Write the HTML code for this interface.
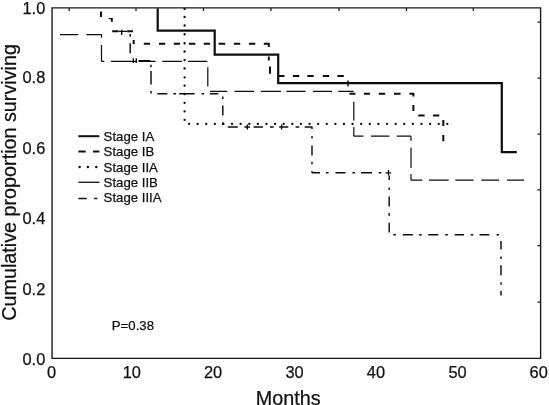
<!DOCTYPE html>
<html>
<head>
<meta charset="utf-8">
<title>Cumulative proportion surviving by stage</title>
<style>
html,body{margin:0;padding:0;background:#fff;}
body{width:549px;height:405px;overflow:hidden;font-family:"Liberation Sans",sans-serif;}
svg{display:block;will-change:transform;opacity:0.999;}
text{font-family:"Liberation Sans",sans-serif;fill:#111;stroke:#111;stroke-width:0.25px;}
.ax{font-size:16.4px;}
.lg{font-size:13.2px;}
.ttl{font-size:19.8px;}
</style>
</head>
<body>
<svg width="549" height="405" viewBox="0 0 549 405">
<rect x="0" y="0" width="549" height="405" fill="#fff"/>

<!-- frame -->
<g stroke="#161616" fill="none">
<path d="M52.05 7.8H540.6V358.3H52.05Z" stroke-width="1.35"/>
<g stroke-width="1.25">
<path d="M69.2 8v2.9M136 8v2.9M203.5 8v2.9M270.9 8v2.9M339 8v2.9M406.5 8v2.9M473.3 8v2.9"/>
<path d="M540.3 22h-2.8M540.3 78h-2.8M540.3 134h-2.8M540.3 189.8h-2.8M540.3 245.7h-2.8M540.3 302h-2.8"/>
</g>
</g>

<!-- y tick labels -->
<g class="ax" text-anchor="end">
<text x="45.3" y="14.4">1.0</text>
<text x="45.3" y="83.3">0.8</text>
<text x="45.3" y="154.3">0.6</text>
<text x="45.3" y="223.9">0.4</text>
<text x="45.3" y="294.5">0.2</text>
<text x="45.3" y="364.8">0.0</text>
</g>
<!-- x tick labels -->
<g class="ax" text-anchor="middle">
<text x="51.5" y="378.3">0</text>
<text x="131.8" y="378.3">10</text>
<text x="213" y="378.3">20</text>
<text x="294.6" y="378.3">30</text>
<text x="375.9" y="378.3">40</text>
<text x="457.5" y="378.3">50</text>
<text x="538.7" y="378.3">60</text>
</g>
<text class="ttl" x="288.2" y="405" text-anchor="middle">Months</text>
<text class="ttl" transform="translate(15.7 182.4) rotate(-90)" text-anchor="middle" style="font-size:19.75px">Cumulative proportion surviving</text>

<!-- legend -->
<g stroke="#111" fill="none">
<path d="M78.4 136.2H99.3" stroke-width="2"/>
<path d="M78.4 151.5H85.7M93 151.5H99.4" stroke-width="2.1"/>
<path d="M79.6 167.1h0M87.9 167.1h0M96.3 167.1h0" stroke-width="2.5" stroke-linecap="round"/>
<path d="M78.4 182.3H99.3" stroke-width="1.3"/>
<path d="M78.4 198.5H86.8M94.2 198.5H97.3" stroke-width="1.3"/>
</g>
<g class="lg">
<text x="103.6" y="140.8">Stage IA</text>
<text x="103.6" y="156.1">Stage IB</text>
<text x="103.6" y="171.6">Stage IIA</text>
<text x="103.6" y="187">Stage IIB</text>
<text x="103.6" y="202.4">Stage IIIA</text>
<text x="111.8" y="330.2">P=0.38</text>
</g>

<!-- curves -->
<g stroke="#0d0d0d" fill="none">
<!-- Stage IIB long dash -->
<path d="M60 34.6H78.2M86.4 34.6H101.9M101.5 34.6V37.7M101.5 45V61.4M101.5 61.4H104.3M111 61.4H136M148 61.4H155.5M162.3 61.4H181.9M188 61.4H207.4M207.8 67.3V86.4M210 91.4H227.4M234.5 91.4H254M260.8 91.4H281M286.4 91.4H305.5M312.8 91.4H332M338.3 91.4H353.7M353.8 101.8V120.5M353.8 126.9V136.2M353.8 136.2H363.5M371 136.2H389.4M396.8 136.2H411M411 136.2V140.8M411 147.5V167.9M411 174V180.2M411 180.2H422.3M429 180.2H448.7M455.4 180.2H473.6M481.4 180.2H499.1M506.9 180.2H524" stroke-width="1.2"/>
<path d="M138.5 61H150.2" stroke-width="2"/>
<!-- Stage IIIA dash dot -->
<path d="M130.2 34V36.8M130.2 43.2V53.2M151 71V84.6M151 64.7v2.6M151 91.0v2.6M157.3 93.7H167.3M179.2 93.7H194.6M210 93.7H218.3M173.3 93.7h2.6M201.5 93.7h2.6M222.8 105.6V115.5M222.8 96.4v2.6M222.8 122.3v2.6M227.8 127H237.8M253.5 127H263M270 127H273.7M279.2 127H288.3M295.6 127H299.2M304.7 127H312.6M312 127V129M312 145.5V155.6M312 171V172.8M312 136.0v2.6M312 161.7v2.6M311.8 172.8H320M335.5 172.8H345.5M361 172.8H372M326.0 172.8h2.6M352.4 172.8h2.6M378.8 172.8h2.6M389.2 175.5V180M389.2 196.4V206.5M389.2 222.8V232.4M389.2 187.5v2.6M389.2 213.1v2.6M402.8 234.8H412.8M428.3 234.8H438.3M454.7 234.8H464M479.6 234.8H489.3M393.3 234.8h2.6M419.1 234.8h2.6M445.2 234.8h2.6M470.7 234.8h2.6M496.5 234.8h2.6M501 241V249.4M501 265.3V275.3M501 290.7V295.4M501 256.5v2.6M501 282.2v2.6" stroke-width="1.45"/>
<!-- censor ticks -->
<path d="M133.3 58.2V63M136.3 58.2V63M121.7 29.8V34.9M118.5 31.3H127.2M247.3 124.5V129.6M244.5 127H250M281.6 124.5V129.6M388.5 170V175.6M385.6 172.8H391.2" stroke-width="1.35"/>
<path d="M348 80.4V86.4" stroke-width="1.5"/>
<!-- Stage IIA dotted -->
<path d="M184.6 8.9v0M184.6 16.9v0M184.6 25.5v0M184.6 34.2v0M184.6 43.2v0M184.6 51.5v0M184.6 60.1v0M184.6 68.4v0M184.6 77.3v0M184.6 85.6v0M184.6 94.0v0M184.6 102.8v0M184.6 111.3v0M184.6 119.8v0M189.0 123.8h0M197.61 123.8h0M206.22 123.8h0M214.83 123.8h0M223.44 123.8h0M232.05 123.8h0M240.66 123.8h0M249.27 123.8h0M257.88 123.8h0M266.49 123.8h0M275.1 123.8h0M283.71 123.8h0M292.32 123.8h0M300.93 123.8h0M309.54 123.8h0M318.15 123.8h0M326.76 123.8h0M335.37 123.8h0M343.98 123.8h0M352.59 123.8h0M361.2 123.8h0M369.81 123.8h0M378.42 123.8h0M387.03 123.8h0M395.64 123.8h0M404.25 123.8h0M412.86 123.8h0M421.47 123.8h0M430.08 123.8h0M438.69 123.8h0M447.3 123.8h0" stroke-width="2.35" stroke-linecap="round"/>
<!-- Stage IB thick dashed -->
<path d="M101 11.4V17.1M112.2 31.3H118.5M127.2 31.3H133M143.8 43.7H150M158.9 43.7H165.2M173.8 43.7H180.1M188.9 43.7H195.3M203.8 43.7H210.1M218.6 43.7H225.2M233.8 43.7H240.2M248.9 43.7H255.3M263.8 43.7H269.8M268.8 43.7V47M268.8 56.4V60.4M270 66.4V73.7M279 76H284.5M292.9 76H299.2M307.3 76H313.7M322.8 76H329.2M337.4 76H343.8M349.5 93.7H355.4M363.9 93.7H369.9M378.8 93.7H385.2M394 93.7H400.6M409.4 93.7H414.4M413.4 93.7V96.4M413.4 105V111M418.2 115.5H424.6M433 115.5H439.3M443.3 120V126M443.3 135V141.2" stroke-width="2"/>
<path d="M108.7 18.1h4.1v3.7h-1.9v-2.6h-2.2zM132.7 40h2v4.1h-2z" fill="#0d0d0d" stroke="none"/>
<!-- Stage IA -->
<path d="M157.7 8.2V30.7H214.7V54.7H278.2V83.1H501.8V152.2H516.8" stroke-width="2.2" stroke-linejoin="miter"/>
</g>
</svg>
</body>
</html>
